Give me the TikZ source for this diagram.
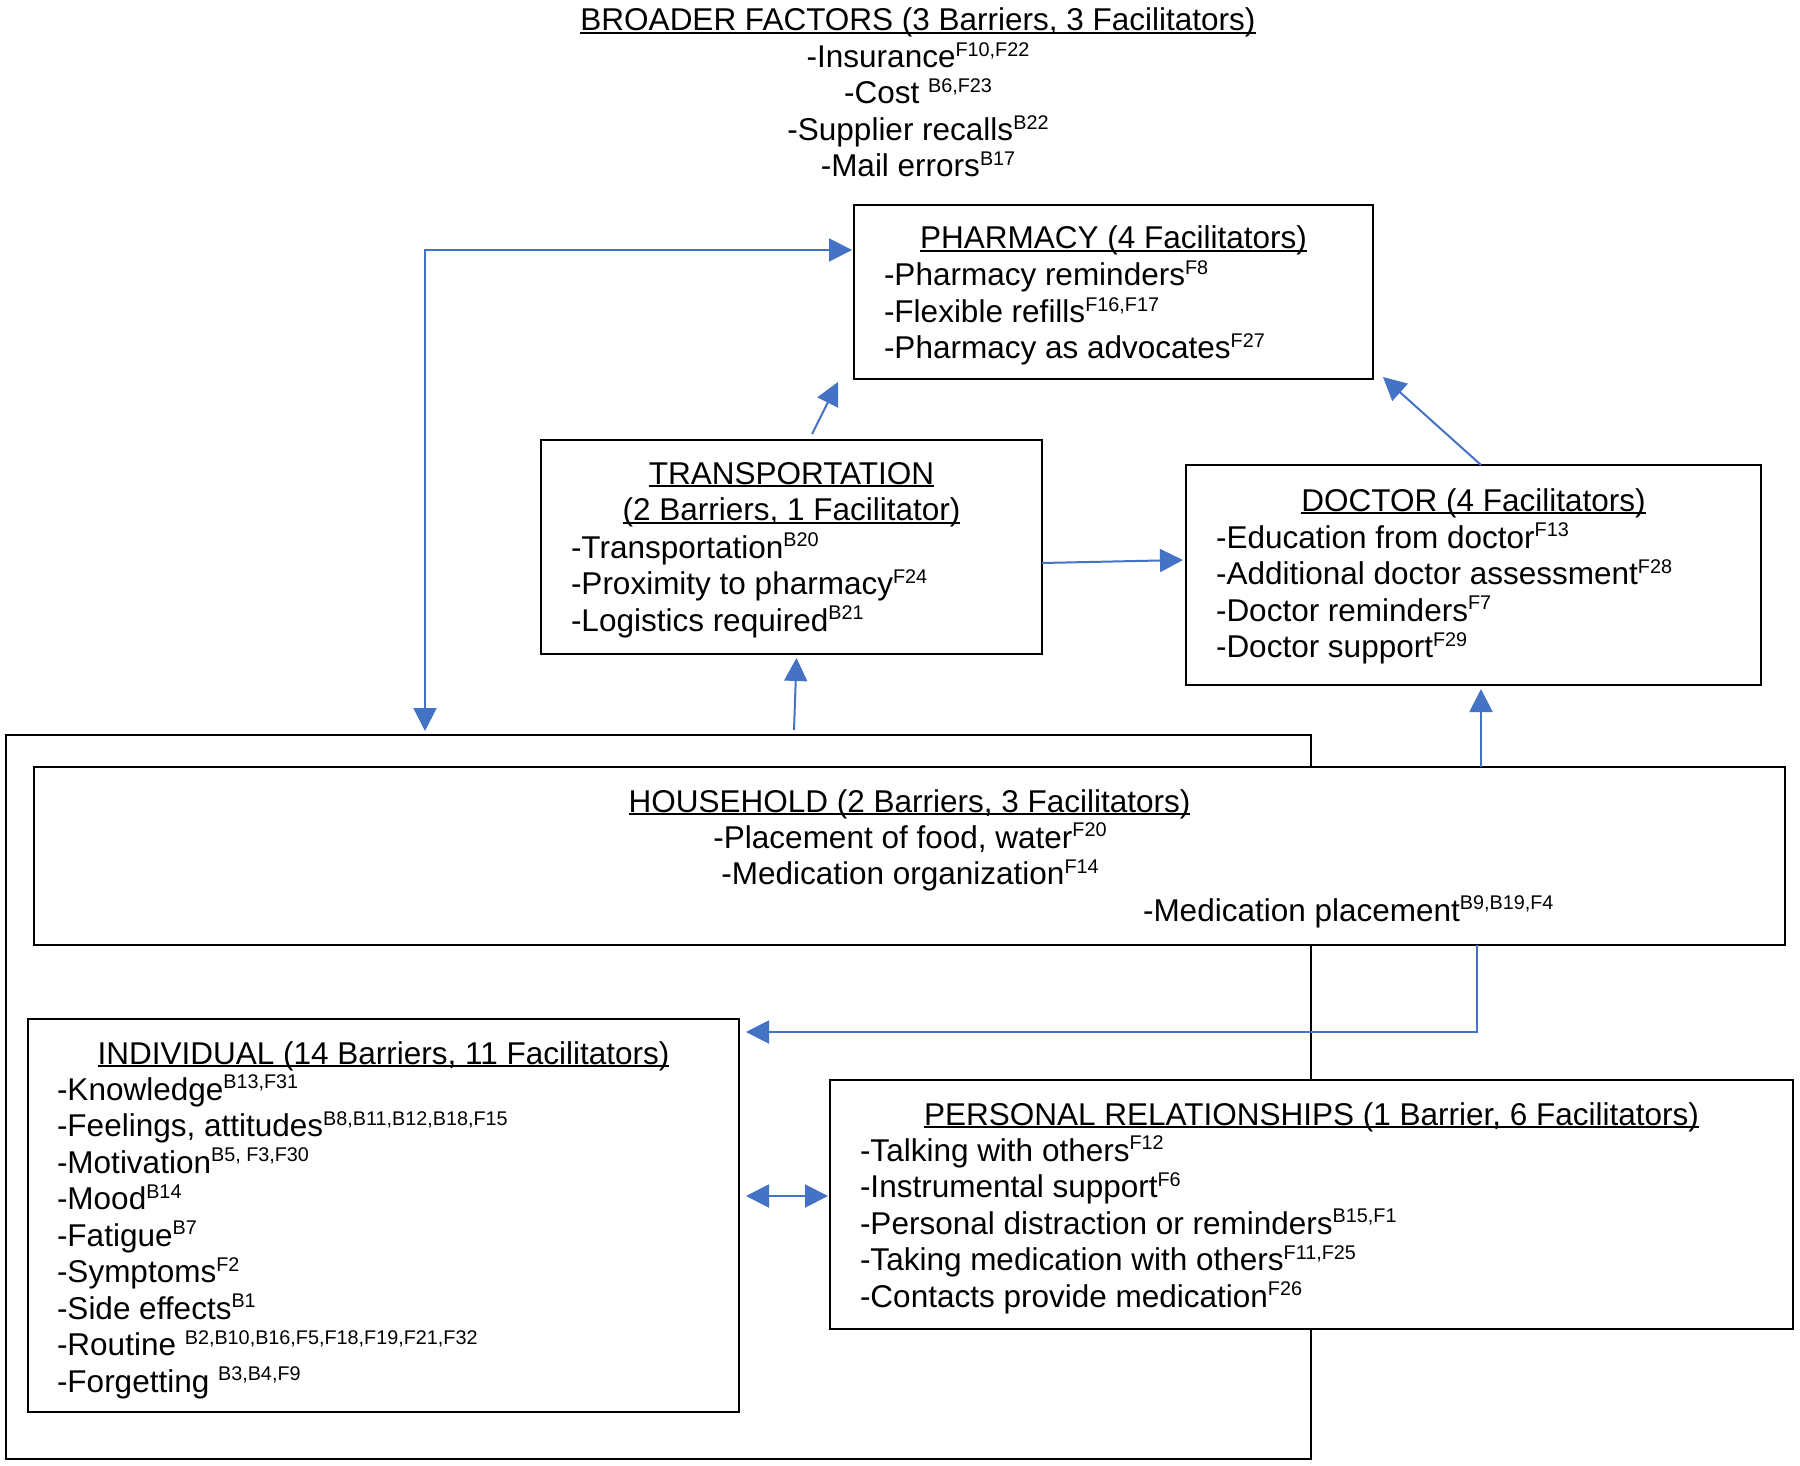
\documentclass[tikz,border=0pt]{standalone}
\usepackage{fontspec}
\setmainfont{Liberation Sans}
\usetikzlibrary{arrows.meta,calc}
\definecolor{arrblue}{HTML}{4472C4}
\newcommand\ulx[1]{\setbox0\hbox{#1}\rlap{\rule[-0.105em]{\wd0}{0.065em}}\box0}
\newcommand\sps[1]{\raisebox{0.36em}{\fontsize{19.8pt}{20pt}\selectfont #1}}
\begin{document}
\begin{tikzpicture}[x=1pt,y=-1pt,
  box/.style={draw=black, line width=2pt, fill=white, rectangle, inner sep=0pt, outer sep=0pt, anchor=north west},
  txt/.style={inner sep=0pt, outer sep=0pt, font=\fontsize{31.5pt}{36.5pt}\selectfont},
  arr/.style={draw=arrblue, line width=2pt, >={Triangle[length=23pt,width=23pt]}}]
\useasboundingbox[fill=white] (0,0) rectangle (1800,1466);

% boxes
\node[box, minimum width=1305pt, minimum height=724pt] (outer) at (6,735) {};
\node[box, minimum width=519pt, minimum height=174pt] (pharm) at (854,205) {};
\node[box, minimum width=501pt, minimum height=214pt] (trans) at (541,440) {};
\node[box, minimum width=575pt, minimum height=220pt] (doc) at (1186,465) {};
\node[box, minimum width=1751pt, minimum height=178pt] (house) at (34,767) {};
\node[box, minimum width=711pt, minimum height=393pt] (indiv) at (28,1019) {};
\node[box, minimum width=963pt, minimum height=249pt] (pers) at (830,1080) {};

% broader factors
\node[txt, anchor=base] (broad) at (918,31) {\begin{tabular}[t]{@{}c@{}}\ulx{BROADER FACTORS (3 Barriers, 3 Facilitators)}\\ -Insurance\sps{F10,F22}\\ -Cost \sps{B6,F23}\\ -Supplier recalls\sps{B22}\\ -Mail errors\sps{B17}\end{tabular}};

% pharmacy
\node[txt, anchor=base] (pharmT) at (1113.5,249) {\ulx{PHARMACY (4 Facilitators)}};
\node[txt, anchor=base west] (pharmB) at (884,286) {\begin{tabular}[t]{@{}l@{}}-Pharmacy reminders\sps{F8}\\ -Flexible refills\sps{F16,F17}\\ -Pharmacy as advocates\sps{F27}\end{tabular}};

% transportation
\node[txt, anchor=base] (transT) at (791.5,484) {\begin{tabular}[t]{@{}c@{}}\ulx{TRANSPORTATION}\\ \ulx{(2 Barriers, 1 Facilitator)}\end{tabular}};
\node[txt, anchor=base west] (transB) at (571,558) {\begin{tabular}[t]{@{}l@{}}-Transportation\sps{B20}\\ -Proximity to pharmacy\sps{F24}\\ -Logistics required\sps{B21}\end{tabular}};

% doctor
\node[txt, anchor=base] (docT) at (1473.5,511) {\ulx{DOCTOR (4 Facilitators)}};
\node[txt, anchor=base west] (docB) at (1216,548) {\begin{tabular}[t]{@{}l@{}}-Education from doctor\sps{F13}\\ -Additional doctor assessment\sps{F28}\\ -Doctor reminders\sps{F7}\\ -Doctor support\sps{F29}\end{tabular}};

% household
\node[txt, anchor=base] (houseT) at (909.5,812) {\ulx{HOUSEHOLD (2 Barriers, 3 Facilitators)}};
\node[txt, anchor=base] (houseB) at (910,848) {\begin{tabular}[t]{@{}c@{}}-Placement of food, water\sps{F20}\\ -Medication organization\sps{F14}\end{tabular}};
\node[txt, anchor=base west] (houseC) at (1143,921) {-Medication placement\sps{B9,B19,F4}};

% individual
\node[txt, anchor=base] (indivT) at (383.5,1064) {\ulx{INDIVIDUAL (14 Barriers, 11 Facilitators)}};
\node[txt, anchor=base west] (indivB) at (57,1100) {\begin{tabular}[t]{@{}l@{}}-Knowledge\sps{B13,F31}\\ -Feelings, attitudes\sps{B8,B11,B12,B18,F15}\\ -Motivation\sps{B5, F3,F30}\\ -Mood\sps{B14}\\ -Fatigue\sps{B7}\\ -Symptoms\sps{F2}\\ -Side effects\sps{B1}\\ -Routine \sps{B2,B10,B16,F5,F18,F19,F21,F32}\\ -Forgetting \sps{B3,B4,F9}\end{tabular}};

% personal relationships
\node[txt, anchor=base] (persT) at (1311.5,1125) {\ulx{PERSONAL RELATIONSHIPS (1 Barrier, 6 Facilitators)}};
\node[txt, anchor=base west] (persB) at (860,1161) {\begin{tabular}[t]{@{}l@{}}-Talking with others\sps{F12}\\ -Instrumental support\sps{F6}\\ -Personal distraction or reminders\sps{B15,F1}\\ -Taking medication with others\sps{F11,F25}\\ -Contacts provide medication\sps{F26}\end{tabular}};

% connectors
\coordinate (corner) at (425,250);
\draw[arr,<->,shorten <=4pt,shorten >=2pt] (corner |- outer.north) -- (corner) -- (corner -| pharm.west);
\draw[arr,->] ($(trans.north west)!0.541!(trans.north east)+(0,-6)$) -- ($(pharm.south west)+(-16,3)$);
\draw[arr,->] ($(doc.north west)+(295,0)$) -- ($(pharm.south east)+(10,-2)$);
\draw[arr,->] ($(trans.east)+(0,16)$) -- ($(doc.west)+(-3,-15)$);
\draw[arr,->] ($(outer.north west)+(788,-5)$) -- ($(trans.south)+(5,4)$);
\draw[arr,->] ($(house.north west)+(1447,0)$) -- ($(doc.south)+(7.5,4)$);
\coordinate (hb) at ($(house.south west)+(1443,0)$);
\draw[arr,->] (hb) |- ($(indiv.north east)+(7,13)$);
\draw[arr,<->] ($(indiv.east)+(7,-19.5)$) -- ($(pers.west)+(-2,-8.5)$);
\end{tikzpicture}
\end{document}
